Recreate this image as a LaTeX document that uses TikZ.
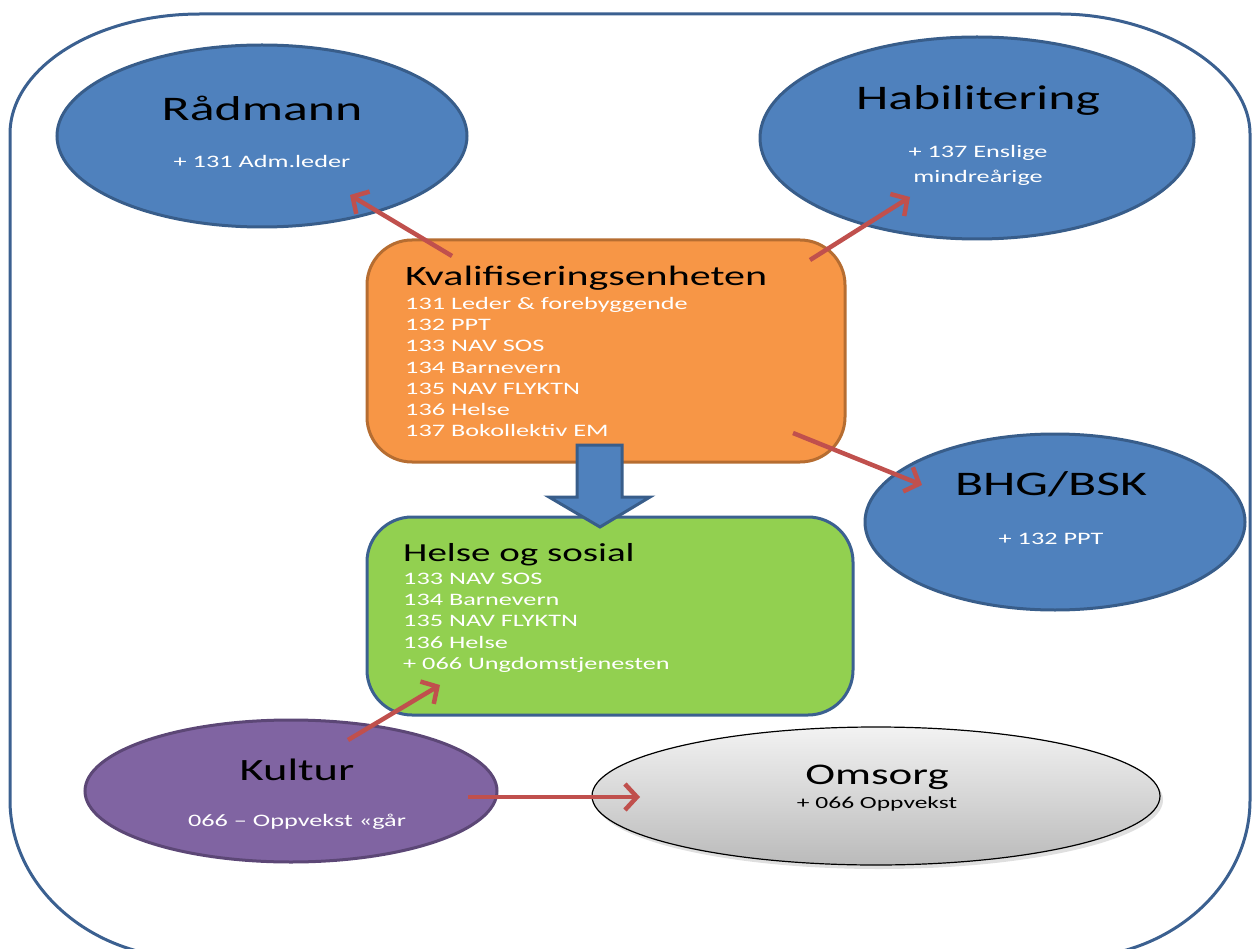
\documentclass[tikz,border=0pt]{standalone}
\usepackage{fontspec}
\setmainfont{Carlito}
\usetikzlibrary{arrows.meta}
\definecolor{frameblue}{HTML}{3B6090}
\definecolor{ellblue}{HTML}{4F81BD}
\definecolor{ellblueb}{HTML}{385D8A}
\definecolor{purp}{HTML}{8064A2}
\definecolor{purpb}{HTML}{5C4776}
\definecolor{orfill}{HTML}{F79646}
\definecolor{orborder}{HTML}{B66D31}
\definecolor{grfill}{HTML}{92D050}
\definecolor{redarr}{HTML}{C0504D}
\newcommand{\sx}[1]{\scalebox{1.5}[1]{#1}}
\newcommand{\fs}[1]{\fontsize{#1}{1.2\dimexpr#1pt\relax}\selectfont}
\tikzset{
  blueell/.style={fill=ellblue, draw=ellblueb, line width=3pt},
  title/.style={anchor=base, inner sep=0pt, text=black},
  sub/.style={anchor=base, inner sep=0pt, text=white},
  redarrow/.style={draw=redarr, line width=4.5pt, -{Straight Barb[length=12pt,width=26pt]}},
  listtext/.style={anchor=north west, inner sep=0pt, text=white, align=left},
}
\begin{document}
\begin{tikzpicture}[x=1pt,y=-1pt]
\useasboundingbox (0,0) rectangle (1252,949);
% outer frame
\draw[frameblue, line width=3pt]
  (10,134) .. controls (10,68) and (95,14) .. (200,14)
  -- (1060,14) .. controls (1155,14) and (1250,68) .. (1250,134)
  -- (1250,800) .. controls (1250,887) and (1169,958) .. (1070,958)
  -- (190,958) .. controls (91,958) and (10,887) .. (10,800) -- cycle;

% ellipses
\path[blueell] (262,136) ellipse [x radius=205, y radius=91];
\path[blueell] (977,138) ellipse [x radius=217, y radius=101];
\path[blueell] (1055,522) ellipse [x radius=190, y radius=88];
\path[fill=purp, draw=purpb, line width=3pt] (291,791) ellipse [x radius=206, y radius=71];
\path[fill=black!25, opacity=0.5] (879,800) ellipse [x radius=284, y radius=69];
\path[top color=black!5, bottom color=black!27, draw=black, line width=1.2pt] (876,796) ellipse [x radius=284, y radius=69];

% boxes
\path[fill=orfill, draw=orborder, line width=3pt, rounded corners=45pt] (367,240) rectangle (845,462);
\path[fill=grfill, draw=frameblue, line width=3pt, rounded corners=45pt] (367,517) rectangle (853,715);

% block arrow
\path[fill=ellblue, draw=ellblueb, line width=3pt, line join=miter]
  (577,445) -- (622,445) -- (622,497) -- (650,497) -- (600,527) -- (549,497) -- (577,497) -- cycle;

% texts
\node[title] (radm) at (262,121) {\fs{34.5}\sx{Rådmann}};
\node[sub] (radmsub) at (262,168) {\fs{17.5}\sx{+ 131 Adm.leder}};
\node[title] (habil) at (978,110) {\fs{34.5}\sx{Habilitering}};
\node[sub] (habsub1) at (978,158) {\fs{17.5}\sx{+ 137 Enslige}};
\node[sub] (habsub2) at (978,183) {\fs{17.5}\sx{mindreårige}};
\node[title] (bhg) at (1051,495) {\fs{34.5}\sx{BHG/BSK}};
\node[sub] (bhgsub) at (1051,544) {\fs{17.5}\sx{+ 132 PPT}};
\node[title] (kultur) at (297,780) {\fs{31}\sx{Kultur}};
\node[sub] (kultsub) at (297,826) {\fs{17.5}\sx{066 – Oppvekst «går}};
\node[title] (omsorg) at (877,784) {\fs{30}\sx{Omsorg}};
\node[title] (omssub) at (877,808) {\fs{17}\sx{+ 066 Oppvekst}};

\node[anchor=base west, inner sep=0pt] (kvtitle) at (405,286) {\fs{28}\sx{Kvalifiseringsenheten}};
\node[listtext] (kvlist) at (405,294) {\fontsize{17.5}{21.3}\selectfont\sx{\begin{tabular}{@{}l@{}}131 Leder \& forebyggende\\132 PPT\\133 NAV SOS\\134 Barnevern\\135 NAV FLYKTN\\136 Helse\\137 Bokollektiv EM\end{tabular}}};
\node[anchor=base west, inner sep=0pt] (hstitle) at (403,561) {\fs{26}\sx{Helse og sosial}};
\node[listtext] (hslist) at (403,569) {\fontsize{17.5}{21.3}\selectfont\sx{\begin{tabular}{@{}l@{}}133 NAV SOS\\134 Barnevern\\135 NAV FLYKTN\\136 Helse\\+ 066 Ungdomstjenesten\end{tabular}}};

% red arrows
\coordinate (a1s) at (452,256); \coordinate (a1e) at (350,195);
\coordinate (a2s) at (810,260); \coordinate (a2e) at (910,197);
\coordinate (a3s) at (793,433); \coordinate (a3e) at (922,485);
\coordinate (a4s) at (348,740); \coordinate (a4e) at (440,685);
\coordinate (a5s) at (468,797); \coordinate (a5e) at (640,797);
\draw[redarrow] (a1s) -- (a1e);
\draw[redarrow] (a2s) -- (a2e);
\draw[redarrow] (a3s) -- (a3e);
\draw[redarrow] (a4s) -- (a4e);
\draw[redarrow] (a5s) -- (a5e);
\end{tikzpicture}
\end{document}
